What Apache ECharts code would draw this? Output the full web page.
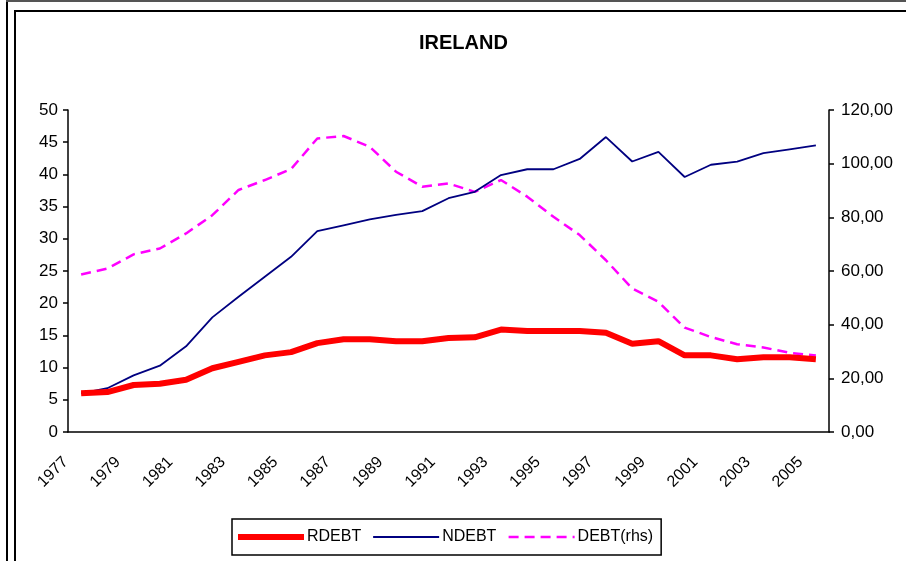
<!DOCTYPE html>
<html>
<head>
<meta charset="utf-8">
<script src="https://cdn.jsdelivr.net/npm/echarts@6/dist/echarts.min.js"></script>
<style>html,body{margin:0;padding:0;background:#fff}#c{width:906px;height:561px}</style>
</head>
<body>
<div id="c"></div>
<script>
var years = ['1977','1978','1979','1980','1981','1982','1983','1984','1985','1986','1987','1988','1989','1990','1991','1992','1993','1994','1995','1996','1997','1998','1999','2000','2001','2002','2003','2004','2005'];
var rdebt = [6.0,6.2,7.3,7.5,8.1,9.9,10.9,11.9,12.4,13.8,14.4,14.4,14.1,14.1,14.6,14.7,15.9,15.7,15.7,15.7,15.4,13.7,14.1,11.9,11.9,11.3,11.6,11.6,11.3];
var ndebt = [6.0,6.8,8.8,10.3,13.3,17.8,21.0,24.1,27.2,31.2,32.1,33.0,33.7,34.3,36.3,37.3,39.9,40.8,40.8,42.4,45.8,42.0,43.5,39.6,41.5,42.0,43.3,43.9,44.5];
var debt = [58.7,60.9,66.2,68.4,74.0,80.8,90.2,93.9,98.0,109.4,110.3,106.3,97.0,91.4,92.6,89.5,93.9,87.7,80.2,73.4,64.0,53.5,48.5,38.9,35.4,32.7,31.5,29.5,28.5];
var leftTicks = {min:0, max:50, interval:5};
var rightTicks = {min:0, max:120, interval:20};

var FONT = '"Liberation Sans", Arial, sans-serif';
var chart = echarts.init(document.getElementById('c'), null, {renderer:'canvas'});
chart.setOption({
  backgroundColor:'#fff',
  animation:false,
  textStyle:{fontFamily:FONT, color:'#000'},
  title:{text:'IRELAND', left:419, top:33, padding:0,
    textStyle:{fontFamily:FONT, fontSize:20, fontWeight:'bold', color:'#000'}},
  graphic:[
    {type:'line', shape:{x1:7,y1:0,x2:7,y2:561}, style:{stroke:'#000', lineWidth:2}},
    {type:'line', shape:{x1:6,y1:1,x2:906,y2:1}, style:{stroke:'#555', lineWidth:2}},
    {type:'line', shape:{x1:15,y1:10,x2:15,y2:561}, style:{stroke:'#000', lineWidth:2}},
    {type:'line', shape:{x1:14,y1:11,x2:906,y2:11}, style:{stroke:'#000', lineWidth:2}}
  ],
  grid:{left:68, right:77, top:110, bottom:129, containLabel:false},
  legend:{left:232, top:519, orient:'horizontal', borderColor:'#000', borderWidth:1.5,
    padding:[10,8,10,3], itemWidth:66, itemHeight:18, itemGap:11,
    itemStyle:{color:'rgba(0,0,0,0)', borderWidth:0, opacity:0},
    lineStyle:{width:'inherit'},
    textStyle:{fontFamily:FONT, fontSize:16, color:'#000', padding:[0,0,0,-2]},
    data:['RDEBT','NDEBT','DEBT(rhs)']},
  xAxis:{type:'category', data:years, boundaryGap:true,
    axisLine:{lineStyle:{color:'#000', width:1.5}},
    axisTick:{interval:0, length:5, lineStyle:{color:'#000', width:1.5}},
    axisLabel:{interval:1, rotate:45, fontSize:16, fontFamily:FONT, color:'#000', margin:12,
      padding:[0,22,0,0]}},
  yAxis:[
    {type:'value', min:leftTicks.min, max:leftTicks.max, interval:leftTicks.interval, position:'left',
      splitLine:{show:false},
      axisLine:{show:true, lineStyle:{color:'#000', width:1.5}},
      axisTick:{show:true, length:5, lineStyle:{color:'#000', width:1.5}},
      axisLabel:{fontSize:17, fontFamily:FONT, color:'#000', margin:10}},
    {type:'value', min:rightTicks.min, max:rightTicks.max, interval:rightTicks.interval, position:'right',
      splitLine:{show:false},
      axisLine:{show:true, lineStyle:{color:'#000', width:1.5}},
      axisTick:{show:true, length:5, lineStyle:{color:'#000', width:1.5}},
      axisLabel:{fontSize:17, fontFamily:FONT, color:'#000', margin:12,
        formatter:function(v){return v.toFixed(2).replace('.',',');}}}
  ],
  series:[
    {name:'RDEBT', type:'line', data:rdebt, yAxisIndex:0, symbol:'none', smooth:false,
      lineStyle:{color:'#FF0000', width:6}, itemStyle:{color:'#FF0000'}, z:3},
    {name:'NDEBT', type:'line', data:ndebt, yAxisIndex:0, symbol:'none', smooth:false,
      lineStyle:{color:'#000080', width:1.8}, itemStyle:{color:'#000080'}, z:2},
    {name:'DEBT(rhs)', type:'line', data:debt, yAxisIndex:1, symbol:'none', smooth:false,
      lineStyle:{color:'#FF00FF', width:2.5, type:[10,6]}, itemStyle:{color:'#FF00FF'}, z:1}
  ]
});
</script>
</body>
</html>
